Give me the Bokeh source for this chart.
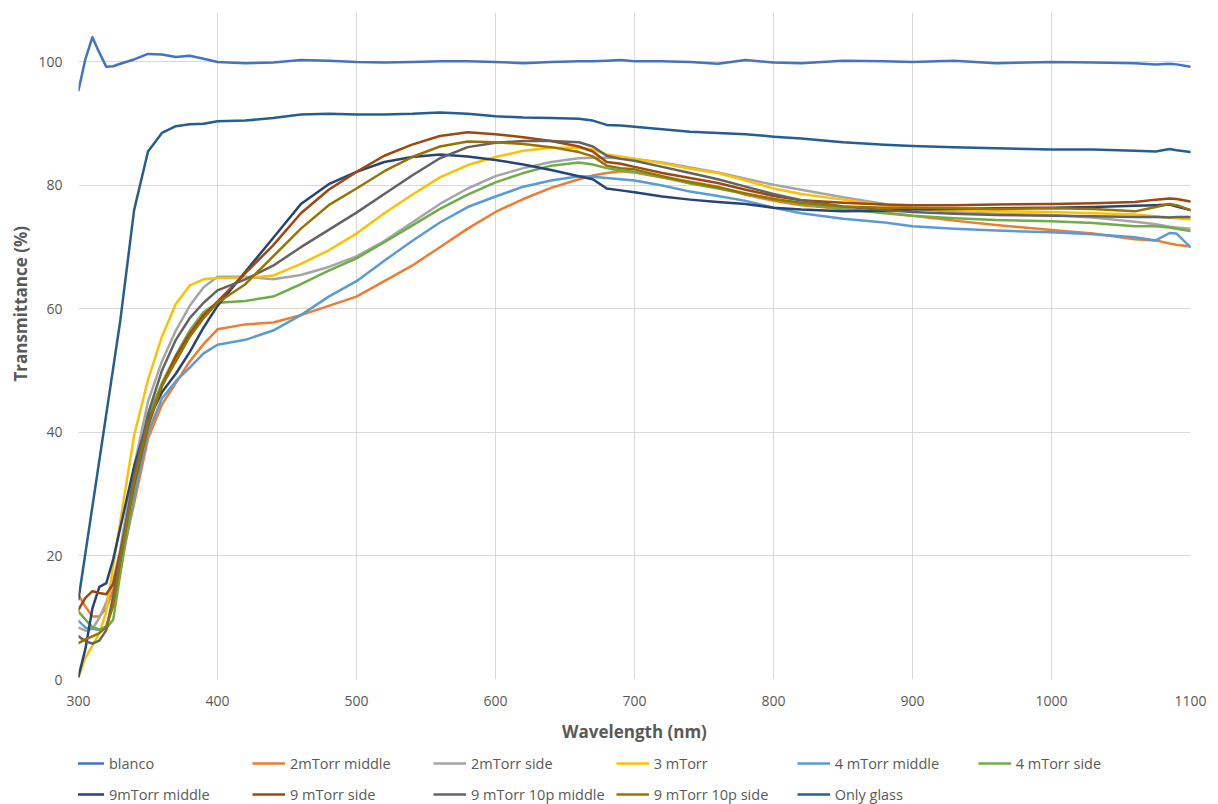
from bokeh.plotting import figure
from bokeh.layouts import column
from bokeh.models import Legend, LegendItem, Range1d, FixedTicker, Title
from bokeh.embed import file_html
from bokeh.resources import INLINE

# Wavelength grid (nm) shared by every spectrum
wavelength = [300, 305, 310, 315, 320, 325, 330, 340, 350, 360, 370, 380, 390, 400,
              420, 440, 460, 480, 500, 520, 540, 560, 580, 600, 620, 640, 660, 670,
              680, 690, 700, 720, 740, 760, 780, 800, 820, 850, 880, 900, 930, 960,
              1000, 1030, 1060, 1075, 1085, 1090, 1100]

# Transmittance (%) per sample
blanco = [95.4, 100.5, 104.0, 101.5, 99.2, 99.3, 99.7, 100.4, 101.3, 101.2, 100.8, 101.0, 100.5, 100.0,
          99.8, 99.9, 100.3, 100.2, 100.0, 99.9, 100.0, 100.1, 100.1, 100.0, 99.8, 100.0, 100.1, 100.1,
          100.2, 100.3, 100.1, 100.1, 100.0, 99.7, 100.3, 99.9, 99.8, 100.2, 100.1, 100.0, 100.2, 99.8,
          100.0, 99.9, 99.8, 99.6, 99.7, 99.6, 99.2]
mtorr2_middle = [13.7, 11.8, 10.2, 10.2, 11.6, 14.5, 18.5, 28.5, 39.0, 44.5, 48.0, 51.5, 54.3, 56.7,
                 57.5, 57.8, 59.0, 60.5, 62.0, 64.5, 67.0, 70.0, 73.0, 75.7, 77.8, 79.6, 81.0, 81.6,
                 82.0, 82.3, 82.1, 81.3, 80.6, 79.8, 78.5, 77.5, 76.8, 76.2, 75.6, 75.1, 74.3, 73.6,
                 72.8, 72.2, 71.3, 71.1, 70.6, 70.4, 70.1]
mtorr2_side = [8.4, 7.9, 8.2, 10.0, 12.5, 16.0, 21.0, 34.5, 45.0, 51.5, 56.5, 60.5, 63.5, 65.2,
               65.2, 64.8, 65.5, 66.8, 68.5, 71.0, 74.0, 77.0, 79.5, 81.5, 82.8, 83.8, 84.4, 84.5,
               84.5, 84.4, 84.3, 83.7, 82.9, 82.1, 81.1, 80.1, 79.3, 78.1, 77.0, 76.3, 75.7, 75.4,
               75.2, 74.8, 74.1, 73.7, 73.3, 73.2, 73.0]
mtorr3 = [0.4, 3.5, 5.5, 7.5, 11.0, 18.5, 25.5, 39.5, 48.5, 55.5, 60.8, 63.8, 64.8, 65.0,
          65.0, 65.4, 67.3, 69.5, 72.2, 75.5, 78.5, 81.3, 83.3, 84.6, 85.6, 86.1, 86.1, 85.8,
          85.0, 84.7, 84.3, 83.6, 82.7, 82.0, 80.8, 79.5, 78.6, 77.7, 76.8, 76.3, 76.0, 75.8,
          75.7, 75.5, 75.3, 75.0, 74.8, 74.7, 74.5]
mtorr4_middle = [9.5, 8.4, 8.2, 8.0, 8.6, 12.5, 17.5, 29.5, 40.0, 45.5, 48.3, 50.5, 52.8, 54.2,
                 55.0, 56.5, 59.0, 62.0, 64.5, 67.8, 71.0, 74.0, 76.5, 78.2, 79.8, 80.8, 81.5, 81.4,
                 81.2, 81.0, 80.8, 80.0, 79.0, 78.3, 77.5, 76.4, 75.5, 74.6, 74.0, 73.4, 73.0, 72.7,
                 72.4, 72.1, 71.6, 71.1, 72.3, 72.2, 70.0]
mtorr4_side = [11.0, 9.7, 8.5, 8.1, 8.3, 9.7, 17.0, 31.0, 42.5, 48.0, 52.5, 56.5, 59.5, 61.0,
               61.3, 62.0, 64.0, 66.2, 68.2, 70.8, 73.5, 76.2, 78.5, 80.5, 82.0, 83.2, 83.7, 83.4,
               82.8, 82.4, 82.2, 81.3, 80.3, 79.5, 78.6, 77.8, 77.0, 76.2, 75.5, 75.1, 74.7, 74.4,
               74.2, 73.9, 73.4, 73.4, 73.2, 73.0, 72.6]
mtorr9_middle = [0.5, 5.0, 11.5, 15.0, 15.6, 19.5, 24.5, 34.5, 42.0, 46.5, 49.5, 53.0, 57.0, 60.5,
                 66.0, 71.5, 77.0, 80.2, 82.2, 83.8, 84.6, 85.0, 84.7, 84.1, 83.4, 82.5, 81.5, 81.0,
                 79.5, 79.2, 78.9, 78.2, 77.7, 77.3, 77.0, 76.4, 76.1, 75.8, 75.9, 76.1, 76.2, 76.3,
                 76.4, 76.5, 76.7, 76.8, 76.9, 76.6, 76.0]
mtorr9_side = [11.3, 13.2, 14.3, 14.0, 13.8, 15.5, 20.5, 31.5, 41.0, 47.5, 52.3, 56.0, 59.0, 61.2,
               65.8, 70.3, 75.5, 79.3, 82.2, 84.8, 86.6, 88.0, 88.6, 88.3, 87.8, 87.2, 86.3, 85.5,
               83.8, 83.5, 83.0, 82.0, 81.2, 80.4, 79.3, 78.3, 77.6, 77.2, 76.9, 76.8, 76.8, 76.9,
               77.0, 77.1, 77.3, 77.7, 77.9, 77.8, 77.4]
mtorr9_10p_middle = [7.0, 6.2, 5.8, 6.3, 8.0, 13.5, 20.0, 33.0, 43.0, 50.0, 55.0, 58.5, 61.0, 63.0,
                     64.8, 67.0, 70.0, 72.8, 75.6, 78.6, 81.6, 84.4, 86.2, 86.9, 87.2, 87.2, 87.0, 86.3,
                     84.8, 84.3, 84.0, 83.0, 82.0, 81.0, 79.8, 78.6, 77.6, 76.6, 76.0, 75.7, 75.4, 75.2,
                     75.1, 75.0, 74.9, 74.9, 74.8, 74.9, 74.9]
mtorr9_10p_side = [5.9, 6.5, 7.0, 7.5, 8.5, 12.0, 19.0, 32.0, 41.5, 47.5, 51.5, 55.5, 58.5, 61.0,
                   64.0, 68.5, 73.0, 76.8, 79.5, 82.3, 84.6, 86.3, 87.1, 87.0, 86.7, 86.2, 85.4, 84.7,
                   83.2, 82.8, 82.6, 81.5, 80.5, 79.7, 78.7, 77.8, 77.2, 76.6, 76.4, 76.4, 76.3, 76.2,
                   76.3, 76.2, 75.8, 76.5, 77.0, 76.8, 76.0]
only_glass = [13.0, 20.5, 28.0, 35.5, 43.0, 50.5, 58.0, 76.0, 85.5, 88.5, 89.6, 89.9, 90.0, 90.4,
              90.5, 90.9, 91.5, 91.6, 91.5, 91.5, 91.6, 91.8, 91.6, 91.2, 91.0, 90.9, 90.8, 90.5,
              89.8, 89.7, 89.5, 89.1, 88.7, 88.5, 88.3, 87.9, 87.6, 87.0, 86.6, 86.4, 86.2, 86.0,
              85.8, 85.8, 85.6, 85.5, 85.9, 85.7, 85.4]

labels = ["blanco", "2mTorr middle", "2mTorr side", "3 mTorr", "4 mTorr middle", "4 mTorr side",
          "9mTorr middle", "9 mTorr side", "9 mTorr 10p middle", "9 mTorr 10p side", "Only glass"]
values = [blanco, mtorr2_middle, mtorr2_side, mtorr3, mtorr4_middle, mtorr4_side,
          mtorr9_middle, mtorr9_side, mtorr9_10p_middle, mtorr9_10p_side, only_glass]
colors = ["#4472C4", "#ED7D31", "#A5A5A5", "#FFC000", "#5B9BD5", "#70AD47",
          "#264478", "#9E480E", "#636363", "#997300", "#255E91"]

x_ticks = list(range(300, 1101, 100))
y_ticks = list(range(0, 101, 20))

FONT = "Open Sans"
TEXT_GREY = "#595959"
GRID_GREY = "#D9D9D9"
LINE_W = 2.5

# ---- main chart ----
p = figure(width=1218, height=745,
           x_range=Range1d(300, 1100), y_range=Range1d(0, 108),
           output_backend="svg", toolbar_location=None,
           min_border_left=78, min_border_right=28, min_border_top=12, min_border_bottom=65)

p.outline_line_color = None
p.background_fill_color = "white"
p.border_fill_color = "white"

for ax in (p.xaxis[0], p.yaxis[0]):
    ax.axis_line_color = None
    ax.major_tick_line_color = None
    ax.minor_tick_line_color = None
    ax.major_label_text_font = FONT
    ax.major_label_text_font_size = "14px"
    ax.major_label_text_color = TEXT_GREY
    ax.axis_label_text_font = FONT
    ax.axis_label_text_font_size = "17px"
    ax.axis_label_text_font_style = "bold"
    ax.axis_label_text_color = TEXT_GREY

p.xaxis.ticker = FixedTicker(ticks=x_ticks)
p.yaxis.ticker = FixedTicker(ticks=y_ticks)
p.xaxis.axis_label = "Wavelength (nm)"
p.xaxis.major_label_standoff = 10
p.xaxis.axis_label_standoff = 11
p.yaxis.major_label_standoff = 10

# Vertical title sits a little above the middle of the plot height
y_title = Title(text="Transmittance (%)", align="left", offset=298, standoff=8,
                text_font=FONT, text_font_size="17px", text_font_style="bold",
                text_color=TEXT_GREY)
p.add_layout(y_title, "left")

p.xgrid.ticker = FixedTicker(ticks=x_ticks)
p.ygrid.ticker = FixedTicker(ticks=y_ticks)
for g in (p.xgrid[0], p.ygrid[0]):
    g.grid_line_color = GRID_GREY
    g.grid_line_width = 1

for ys, col in zip(values, colors):
    p.line(wavelength, ys, line_color=col, line_width=LINE_W, line_join="round", line_cap="round")

# ---- legend strip under the chart ----
# The same series are drawn here outside the visible ranges, so only their legend keys show.
lg = figure(width=1218, height=59, x_range=Range1d(0, 1), y_range=Range1d(0, 1),
            output_backend="svg", toolbar_location=None,
            x_axis_location=None, y_axis_location=None,
            min_border=0, min_border_left=0, min_border_right=0,
            min_border_top=0, min_border_bottom=0)
lg.outline_line_color = None
lg.xgrid.visible = False
lg.ygrid.visible = False

items = []
for name, ys, col in zip(labels, values, colors):
    r = lg.line(wavelength, ys, line_color=col, line_width=LINE_W)
    items.append(LegendItem(label=name, renderers=[r]))

legend = Legend(items=items, orientation="horizontal", ncols=6, location=(-7, 0),
                border_line_color=None, background_fill_alpha=0,
                label_text_font=FONT, label_text_font_size="14.5px", label_text_color=TEXT_GREY,
                glyph_width=33, glyph_height=20, label_standoff=5, label_width=132,
                label_height=20, spacing=11, padding=0, margin=0)
lg.add_layout(legend, "center")

page = column(p, lg, spacing=0)
open("out.html", "w").write(file_html(page, INLINE))
